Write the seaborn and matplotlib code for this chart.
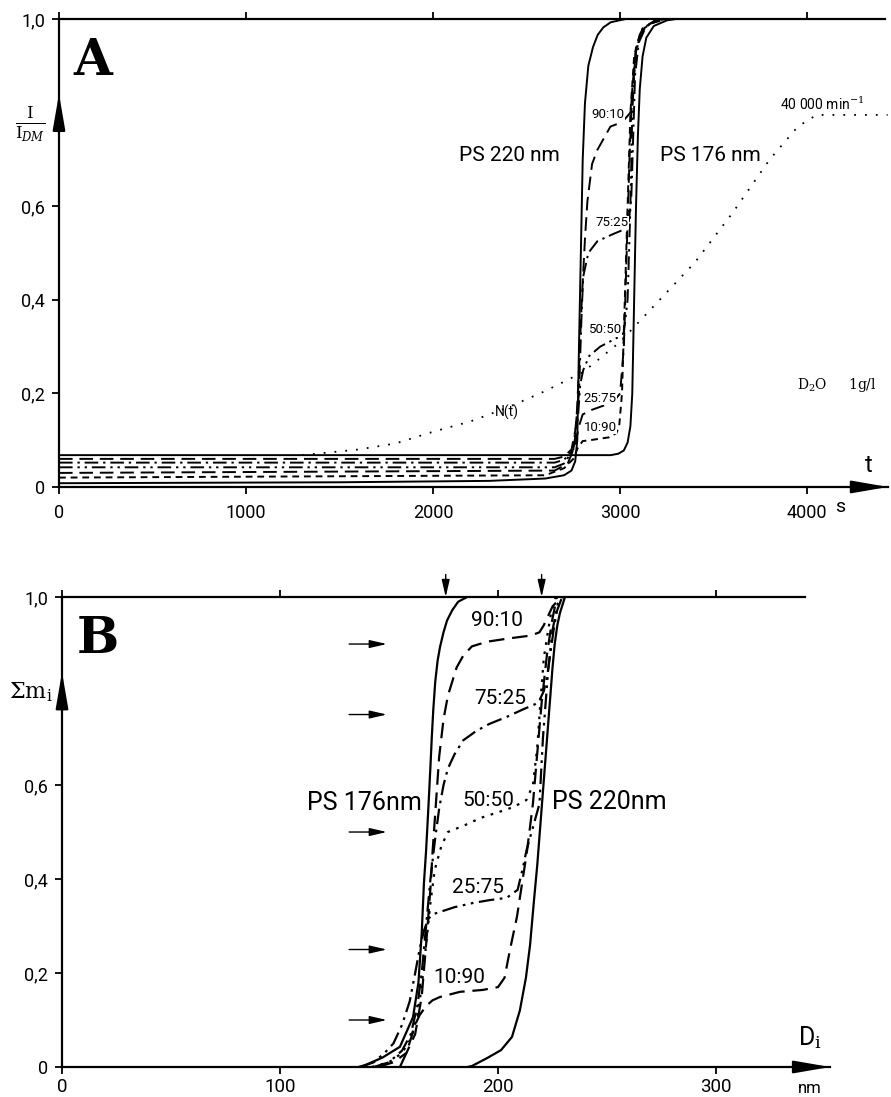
import numpy as np
import pandas as pd
import seaborn as sns
import matplotlib.pyplot as plt

# ---------------- panel A : I/I_DM against time t (s) ----------------
t_ps220 = [0, 1500, 2300, 2600, 2700, 2740, 2760, 2771, 2780, 2790, 2800, 2812, 2830, 2855, 2880, 2910, 2950, 3030]
i_ps220 = [0.008, 0.010, 0.013, 0.018, 0.025, 0.035, 0.055, 0.10, 0.30, 0.50, 0.70, 0.82, 0.90, 0.94, 0.966, 0.982, 0.993, 1.0]

t_ps176 = [0, 2950, 2990, 3020, 3040, 3055, 3065, 3075, 3085, 3095, 3105, 3120, 3140, 3180, 3250, 3300]
i_ps176 = [0.068, 0.068, 0.071, 0.078, 0.095, 0.13, 0.20, 0.40, 0.60, 0.75, 0.85, 0.92, 0.96, 0.985, 0.997, 1.0]

t_a9010 = [0, 2650, 2700, 2740, 2765, 2780, 2795, 2812, 2825, 2850, 2878, 2948, 3012, 3055, 3070, 3085, 3110, 3160, 3250]
i_a9010 = [0.060, 0.060, 0.065, 0.08, 0.13, 0.25, 0.40, 0.53, 0.61, 0.69, 0.72, 0.77, 0.78, 0.80, 0.86, 0.93, 0.97, 0.99, 1.0]

t_a7525 = [0, 2650, 2700, 2750, 2780, 2795, 2803, 2830, 2878, 2960, 3020, 3045, 3060, 3070, 3080, 3100, 3140, 3220]
i_a7525 = [0.052, 0.052, 0.058, 0.08, 0.20, 0.38, 0.45, 0.50, 0.525, 0.54, 0.55, 0.56, 0.62, 0.75, 0.88, 0.95, 0.985, 1.0]

t_a5050 = [0, 2650, 2700, 2750, 2775, 2787, 2803, 2835, 2894, 2990, 3020, 3040, 3055, 3065, 3080, 3110, 3170, 3250]
i_a5050 = [0.042, 0.042, 0.05, 0.08, 0.15, 0.22, 0.25, 0.28, 0.30, 0.32, 0.33, 0.40, 0.60, 0.80, 0.92, 0.97, 0.995, 1.0]

t_a2575 = [0, 2650, 2720, 2760, 2780, 2800, 2850, 2920, 2970, 3000, 3020, 3035, 3050, 3065, 3085, 3120, 3200]
i_a2575 = [0.030, 0.035, 0.05, 0.09, 0.13, 0.155, 0.165, 0.175, 0.185, 0.20, 0.30, 0.50, 0.70, 0.85, 0.94, 0.98, 1.0]

t_a1090 = [0, 2600, 2700, 2750, 2775, 2800, 2840, 2940, 2980, 2995, 3010, 3025, 3040, 3055, 3075, 3110, 3200]
i_a1090 = [0.020, 0.025, 0.04, 0.06, 0.085, 0.098, 0.10, 0.106, 0.115, 0.13, 0.20, 0.40, 0.60, 0.80, 0.92, 0.975, 1.0]

# rotor speed programme N(t)
t_speed = [1300, 1600, 1800, 2000, 2200, 2400, 2600, 2800, 3000, 3200, 3400, 3600, 3800, 3950, 4050, 4430]
n_speed = [0.068, 0.08, 0.093, 0.118, 0.14, 0.17, 0.205, 0.245, 0.31, 0.395, 0.48, 0.585, 0.70, 0.77, 0.795, 0.795]

a_ratio_labels = ["90:10", "75:25", "50:50", "25:75", "10:90"]
a_ratio_t = [2937, 2958, 2921, 2894, 2894]
a_ratio_i = [0.795, 0.565, 0.336, 0.19, 0.128]

a_xticks = [0, 1000, 2000, 3000, 4000]
a_xticklabels = ["0", "1000", "2000", "3000", "4000"]
yticks = [0, 0.2, 0.4, 0.6, 1.0]
yticklabels = ["0", "0,2", "0,4", "0,6", "1,0"]

# ---------------- panel B : cumulative mass against diameter (nm) ----------------
d_ps176 = [136, 139, 147, 155, 161, 163.5, 165, 166, 167, 168, 169, 169.6, 170.3, 171.2, 172.3, 173.4, 175, 176.6, 179, 181.7, 185.8]
s_ps176 = [0, 0.004, 0.02, 0.043, 0.106, 0.18, 0.285, 0.39, 0.46, 0.547, 0.64, 0.70, 0.76, 0.82, 0.865, 0.894, 0.925, 0.95, 0.972, 0.99, 1.0]

d_ps220 = [186, 188, 195, 201.4, 206.4, 210, 212.8, 214.7, 216.5, 218, 219, 220, 221, 222, 223, 224, 225, 226, 227.2, 228.4, 230.7]
s_ps220 = [0, 0.002, 0.019, 0.036, 0.064, 0.12, 0.19, 0.26, 0.355, 0.43, 0.49, 0.55, 0.61, 0.67, 0.73, 0.79, 0.85, 0.90, 0.94, 0.966, 1.0]

d_b9010 = [145, 152, 158, 162, 165, 167, 169, 170, 171.5, 173, 175, 177, 179, 181, 184, 188, 195, 205, 215, 219, 221, 223, 225, 227, 230]
s_b9010 = [0, 0.01, 0.03, 0.07, 0.15, 0.26, 0.38, 0.46, 0.56, 0.66, 0.74, 0.79, 0.82, 0.85, 0.875, 0.895, 0.905, 0.912, 0.918, 0.925, 0.94, 0.96, 0.98, 0.99, 1.0]

d_b7525 = [143, 150, 156, 160, 163, 165, 167, 169, 171, 173, 175, 177, 180, 184, 190, 196, 204, 211, 217, 219, 221, 222.5, 224, 225.5, 227, 229.4]
s_b7525 = [0, 0.01, 0.035, 0.07, 0.13, 0.2, 0.3, 0.4, 0.48, 0.55, 0.6, 0.635, 0.665, 0.695, 0.715, 0.73, 0.745, 0.76, 0.772, 0.78, 0.80, 0.83, 0.88, 0.93, 0.97, 1.0]

d_b5050 = [142, 150, 156, 160, 163, 165, 167, 169, 171, 174, 177, 185, 192, 200, 207, 213, 216, 218, 219.5, 221, 223, 224.5, 226.5]
s_b5050 = [0, 0.01, 0.03, 0.06, 0.11, 0.17, 0.26, 0.35, 0.42, 0.47, 0.50, 0.515, 0.53, 0.542, 0.553, 0.568, 0.60, 0.68, 0.78, 0.87, 0.93, 0.97, 1.0]

d_b2575 = [137, 143, 148, 152, 156, 159.5, 162, 164, 166, 168, 170, 173.4, 180, 188.5, 196, 204, 209, 211.5, 213, 216, 219, 220.6, 223, 225, 227.5, 229]
s_b2575 = [0, 0.01, 0.03, 0.05, 0.09, 0.14, 0.2, 0.25, 0.29, 0.315, 0.325, 0.33, 0.34, 0.349, 0.355, 0.36, 0.377, 0.426, 0.46, 0.51, 0.56, 0.70, 0.845, 0.93, 0.987, 1.0]

d_b1090 = [155, 158, 160, 162, 164, 167, 170, 173.4, 182.6, 193, 200, 203, 205.5, 208.7, 211.5, 213.3, 216, 218, 220, 222.5, 224.8, 227]
s_b1090 = [0, 0.03, 0.06, 0.09, 0.11, 0.13, 0.142, 0.149, 0.16, 0.164, 0.17, 0.19, 0.25, 0.32, 0.405, 0.46, 0.56, 0.668, 0.775, 0.88, 0.95, 1.0]

b_ratio_labels = ["90:10", "75:25", "50:50", "25:75", "10:90"]
b_ratio_d = [199.5, 201, 195.5, 191, 182]
b_ratio_s = [0.951, 0.785, 0.568, 0.383, 0.19]

b_arrow_levels = [0.9, 0.75, 0.5, 0.25, 0.1]
b_peak_d = [176, 220]

b_xticks = [0, 100, 200, 300]
b_xticklabels = ["0", "100", "200", "300"]

# line styles
SOLID = "-"
LONGDASH = (0, (7, 3.5))
SHORTDASH = (0, (3.5, 2.5))
DASHDOT = (0, (7, 2.5, 1.2, 2.5))
DASHDOTDOT = (0, (7, 2.5, 1.2, 2.5, 1.2, 2.5))
DOTTED = (0, (1.2, 3))
SPARSEDOT = (0, (1, 5))

sns.set_theme(style="ticks")
plt.rcParams["font.family"] = ["Roboto", "DejaVu Sans"]
plt.rcParams["mathtext.fontset"] = "dejavuserif"
for key in ["text.color", "axes.labelcolor", "xtick.color", "ytick.color", "axes.edgecolor"]:
    plt.rcParams[key] = "black"

fig = plt.figure(figsize=(8.91, 10.97), dpi=100)
fig.patch.set_facecolor("white")
axA = fig.add_axes([0.0662, 0.5561, 0.9304, 0.4266])
axB = fig.add_axes([0.0696, 0.02735, 0.862, 0.4284])


def curve(ax, x, y, ls, lw=1.4):
    sns.lineplot(x=x, y=y, ax=ax, color="black", linestyle=ls, linewidth=lw,
                 estimator=None, sort=False)


def frame(ax, xmax, top_end, xticks, xticklabels, xsize, xpad):
    ax.set_xlim(0, xmax)
    ax.set_ylim(0, 1)
    ax.set_facecolor("white")
    ax.spines["right"].set_visible(False)
    ax.spines["top"].set_bounds(0, top_end)
    for s in ["left", "bottom", "top"]:
        ax.spines[s].set_linewidth(1.6)
        ax.spines[s].set_color("black")
    ax.set_xticks(xticks)
    ax.set_xticklabels(xticklabels)
    ax.set_yticks(yticks)
    ax.set_yticklabels(yticklabels)
    ax.tick_params(axis="x", top=True, direction="out", length=5, width=1.3,
                   labelsize=xsize, pad=xpad, colors="black")
    ax.tick_params(axis="y", direction="out", length=5, width=1.3,
                   labelsize=13, pad=5, colors="black")
    ax.set_xlabel("")
    ax.set_ylabel("")
    head = dict(arrowstyle="-|>,head_length=2.2,head_width=0.38", color="black",
                lw=1.6, shrinkA=0, shrinkB=0, mutation_scale=10)
    ax.annotate("", xy=(1.0, 0), xytext=(0.96, 0), xycoords="axes fraction",
                arrowprops=head, annotation_clip=False)
    ax.annotate("", xy=(0, 0.84), xytext=(0, 0.77), xycoords="axes fraction",
                arrowprops=head, annotation_clip=False)


# ---------------- panel A ----------------
curve(axA, t_speed, n_speed, SPARSEDOT, 1.3)
curve(axA, t_ps220, i_ps220, SOLID)
curve(axA, t_ps176, i_ps176, SOLID)
curve(axA, t_a9010, i_a9010, LONGDASH)
curve(axA, t_a7525, i_a7525, DASHDOT)
curve(axA, t_a5050, i_a5050, DASHDOTDOT)
curve(axA, t_a2575, i_a2575, LONGDASH)
curve(axA, t_a1090, i_a1090, SHORTDASH)
frame(axA, 4432, 4415, a_xticks, a_xticklabels, 13, 7)

for lab, tx, iy in zip(a_ratio_labels, a_ratio_t, a_ratio_i):
    axA.text(tx, iy, lab, fontsize=9.5, ha="center", va="center",
             bbox=dict(facecolor="white", edgecolor="none", pad=0.3))
axA.text(2408, 0.708, "PS 220 nm", fontsize=15, ha="center", va="center")
axA.text(3483, 0.708, "PS 176 nm", fontsize=15, ha="center", va="center")
axA.text(4082, 0.80, "40 000 min$^{-1}$", fontsize=10, ha="center", va="bottom")
axA.text(2397, 0.16, "N(t)", fontsize=10, ha="center", va="center")
axA.text(4157, 0.218, "D$_2$O     1g/l", fontsize=10, ha="center", va="center",
         family=["DejaVu Serif"])
axA.text(4328, 0.045, "t", fontsize=17, ha="center", va="center")
axA.text(4178, -0.054, "s", fontsize=14, ha="center", va="baseline",
         transform=axA.get_xaxis_transform())
axA.text(75, 0.88, "A", fontsize=36, fontweight="bold", ha="left", va="baseline",
         family=["DejaVu Serif"])
axA.text(-0.035, 0.775, r"$\frac{\mathrm{I}}{\mathrm{I}_{\mathit{DM}}}$", fontsize=17,
         ha="center", va="center", transform=axA.transAxes)

# ---------------- panel B ----------------
curve(axB, d_ps176, s_ps176, SOLID, 1.6)
curve(axB, d_ps220, s_ps220, SOLID, 1.6)
curve(axB, d_b9010, s_b9010, LONGDASH, 1.6)
curve(axB, d_b7525, s_b7525, DASHDOT, 1.6)
curve(axB, d_b5050, s_b5050, DOTTED, 1.6)
curve(axB, d_b2575, s_b2575, DASHDOTDOT, 1.6)
curve(axB, d_b1090, s_b1090, LONGDASH, 1.6)
frame(axB, 352.3, 341, b_xticks, b_xticklabels, 13.5, 3)

for lab, dx, sy in zip(b_ratio_labels, b_ratio_d, b_ratio_s):
    axB.text(dx, sy, lab, fontsize=15, ha="center", va="center")
axB.text(165, 0.562, "PS 176nm", fontsize=18, ha="right", va="center")
axB.text(224.8, 0.564, "PS 220nm", fontsize=18, ha="left", va="center")

small_head = dict(arrowstyle="-|>,head_length=1.3,head_width=0.3", color="black",
                  lw=1.0, shrinkA=0, shrinkB=0, mutation_scale=8)
for lvl in b_arrow_levels:
    axB.annotate("", xy=(149, lvl), xytext=(131.7, lvl), arrowprops=small_head)
for dpk in b_peak_d:
    axB.annotate("", xy=(dpk, 1.0), xytext=(dpk, 1.048), arrowprops=small_head,
                 annotation_clip=False)

axB.text(343, 0.062, "D$_\\mathrm{i}$", fontsize=18, ha="center", va="center")
axB.text(343, -0.055, "nm", fontsize=12, ha="center", va="baseline",
         transform=axB.get_xaxis_transform())
axB.text(6.9, 0.881, "B", fontsize=36, fontweight="bold", ha="left", va="baseline",
         family=["DejaVu Serif"])
axB.text(-0.04, 0.798, r"$\Sigma\mathrm{m}_\mathrm{i}$", fontsize=16,
         ha="center", va="center", transform=axB.transAxes)

fig.savefig("out.png", dpi=100, facecolor="white")
